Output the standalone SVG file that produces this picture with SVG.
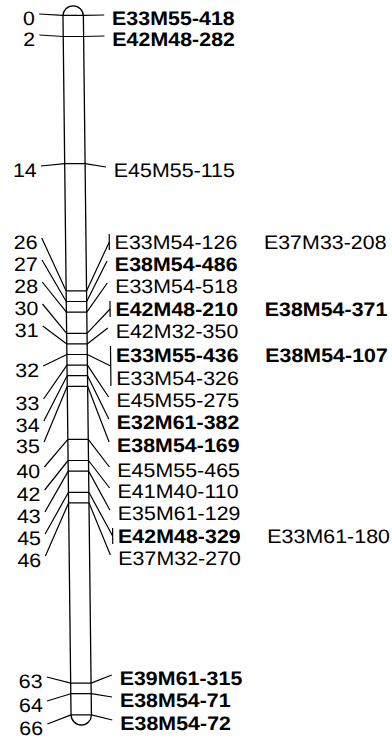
<svg xmlns="http://www.w3.org/2000/svg" width="392" height="738" viewBox="0 0 392 738">
<style>
.ln{stroke:#000;stroke-width:1.2;fill:none}
.bar{stroke:#000;stroke-width:1.3;fill:#fff}
text{font-family:"Liberation Sans",Arial,sans-serif;font-size:19.5px;fill:#000}
.b{font-weight:bold}
.e{text-anchor:end}
</style>
<rect width="392" height="738" fill="#fff"/>
<g id="chromosome" transform="skewX(0.66)">
<path class="bar" d="M62.8,16 A10.2,10.2 0 0 1 83.2,16 L83.2,714.8 A10.2,10.2 0 0 1 62.8,714.8 Z"/>
<path class="ln" d="M62.8,15.3H83.2M62.8,36.5H83.2M62.8,163.7H83.2M62.8,290.9H83.2M62.8,301.5H83.2M62.8,312.1H83.2M62.8,333.3H83.2M62.8,343.9H83.2M62.8,354.5H83.2M62.8,365.1H83.2M62.8,375.7H83.2M62.8,386.3H83.2M62.8,439.3H83.2M62.8,460.5H83.2M62.8,471.1H83.2M62.8,492.3H83.2M62.8,502.9H83.2M62.8,683.1H83.2M62.8,693.7H83.2M62.8,714.9H83.2"/>
</g>
<g id="connectors" transform="skewX(0.66)">
<path class="ln" d="M39,14L62.8,15.3M39,35L62.8,36.5M39,166L62.8,163.7M39,238L62.8,290.9M39,260L62.8,301.5M39,282L62.8,312.1M39,304L62.8,333.3M39,326L62.8,343.9M39,366L62.8,354.5M39,399L62.8,365.1M39,421L62.8,375.7M39,442L62.8,386.3M39,467L62.8,439.3M39,490L62.8,460.5M39,512L62.8,471.1M39,534L62.8,492.3M39,556L62.8,502.9M39,677L62.8,683.1M39,701L62.8,693.7M39,724L62.8,714.9"/>
<path class="ln" d="M83.2,15.3L104,15M83.2,36.5L104,36M83.2,163.7L104,167M83.2,290.9L106.5,242M83.2,301.5L104,261M83.2,312.1L104,283M83.2,333.3L106.5,309M83.2,343.9L104,328M83.2,354.5L106.5,366M83.2,365.1L104,397M83.2,375.7L104,419M83.2,386.3L104,442M83.2,439.3L104,467M83.2,460.5L104,488M83.2,471.1L104,510M83.2,492.3L106.5,536M83.2,502.9L104,555M83.2,683.1L104,675M83.2,693.7L104,697M83.2,714.9L104,720"/>
<path class="ln" d="M106.5,234V250M106.5,301V317M106.5,346V386M106.5,528V544"/>
</g>
<g transform="skewX(0.66) scale(1.1,1)">
<g id="locus-0"><text class="e" x="31.6" y="25">0</text><text class="b" x="101.6" y="25">E33M55-418</text></g>
<g id="locus-2"><text class="e" x="31.6" y="46">2</text><text class="b" x="101.6" y="46">E42M48-282</text></g>
<g id="locus-14"><text class="e" x="31.6" y="177">14</text><text x="101.6" y="177">E45M55-115</text></g>
<g id="locus-26"><text class="e" x="31.6" y="249">26</text><text x="101.6" y="249">E33M54-126</text><text x="237.3" y="249">E37M33-208</text></g>
<g id="locus-27"><text class="e" x="31.6" y="271">27</text><text class="b" x="101.6" y="271">E38M54-486</text></g>
<g id="locus-28"><text class="e" x="31.6" y="293">28</text><text x="101.6" y="293">E33M54-518</text></g>
<g id="locus-30"><text class="e" x="31.6" y="315">30</text><text class="b" x="101.6" y="316">E42M48-210</text><text class="b" x="237.3" y="316">E38M54-371</text></g>
<g id="locus-31"><text class="e" x="31.6" y="337">31</text><text x="101.6" y="338">E42M32-350</text></g>
<g id="locus-32"><text class="e" x="31.6" y="377">32</text><text class="b" x="101.6" y="362">E33M55-436</text><text class="b" x="237.3" y="362">E38M54-107</text><text x="101.6" y="385">E33M54-326</text></g>
<g id="locus-33"><text class="e" x="31.6" y="410">33</text><text x="101.6" y="407">E45M55-275</text></g>
<g id="locus-34"><text class="e" x="31.6" y="432">34</text><text class="b" x="101.6" y="429">E32M61-382</text></g>
<g id="locus-35"><text class="e" x="31.6" y="453">35</text><text class="b" x="101.6" y="452">E38M54-169</text></g>
<g id="locus-40"><text class="e" x="31.6" y="478">40</text><text x="101.6" y="477">E45M55-465</text></g>
<g id="locus-42"><text class="e" x="31.6" y="501">42</text><text x="101.6" y="498">E41M40-110</text></g>
<g id="locus-43"><text class="e" x="31.6" y="523">43</text><text x="101.6" y="520">E35M61-129</text></g>
<g id="locus-45"><text class="e" x="31.6" y="545">45</text><text class="b" x="101.6" y="543">E42M48-329</text><text x="237.3" y="543">E33M61-180</text></g>
<g id="locus-46"><text class="e" x="31.6" y="567">46</text><text x="101.6" y="565">E37M32-270</text></g>
<g id="locus-63"><text class="e" x="31.6" y="688">63</text><text class="b" x="101.6" y="685">E39M61-315</text></g>
<g id="locus-64"><text class="e" x="31.6" y="712">64</text><text class="b" x="101.6" y="707">E38M54-71</text></g>
<g id="locus-66"><text class="e" x="31.6" y="735">66</text><text class="b" x="101.6" y="730">E38M54-72</text></g>
</g>
</svg>
